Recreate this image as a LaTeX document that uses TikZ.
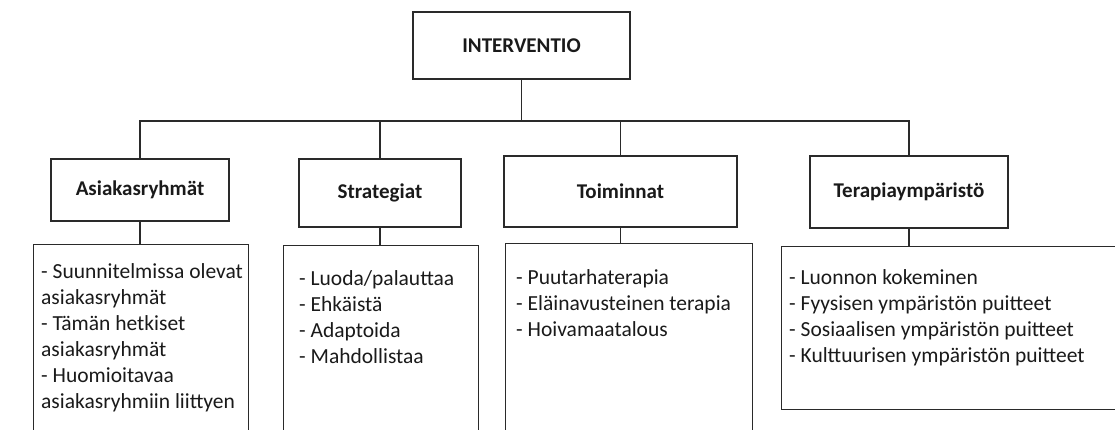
\documentclass[tikz,border=0pt]{standalone}
\usepackage{fontspec}
\setmainfont{Carlito}
\usetikzlibrary{calc}
\definecolor{linec}{HTML}{2A2A2A}
\definecolor{textc}{HTML}{1A1A1A}
\begin{document}
\begin{tikzpicture}[x=1pt,y=-1pt,
  line/.style={draw=linec, line width=1.4pt},
  headbox/.style={draw=linec, line width=1.4pt, fill=white, inner sep=0pt,
    font=\fontsize{21}{26}\selectfont\bfseries, text=textc},
  listbox/.style={draw=linec, line width=1.4pt, inner sep=0pt, anchor=north west},
  listtext/.style={inner sep=0pt, anchor=north west, align=left,
    font=\fontsize{21.5}{26}\selectfont, text=textc}]
\useasboundingbox (0,0) rectangle (1115,429);
\clip (0,0) rectangle (1115,429);
\fill[white] (0,0) rectangle (1115,429);
% header boxes
\node[headbox, minimum width=217pt, minimum height=67pt] (top) at (521.5,45.5) {INTERVENTIO};
\node[headbox, minimum width=178pt, minimum height=62pt] (h1) at (140,190) {Asiakasryhmät};
\node[headbox, minimum width=162pt, minimum height=68pt] (h2) at (380,193) {Strategiat};
\node[headbox, minimum width=233pt, minimum height=71pt] (h3) at (620.5,191.5) {Toiminnat};
\node[headbox, minimum width=198pt, minimum height=72pt] (h4) at (909,192) {Terapiaympäristö};
% list boxes
\node[listbox, minimum width=215pt, minimum height=260pt] (b1) at (33,244) {};
\node[listbox, minimum width=195pt, minimum height=260pt] (b2) at (283,245) {};
\node[listbox, minimum width=247pt, minimum height=260pt] (b3) at (505,243) {};
\node[listbox, minimum width=360pt, minimum height=163pt] (b4) at (781,246) {};
% list texts
\node[listtext] (t1) at (41,259.8) {\strut- Suunnitelmissa olevat\\asiakasryhmät\\- Tämän hetkiset\\asiakasryhmät\\- Huomioitavaa\\asiakasryhmiin liittyen};
\node[listtext] (t2) at (299,266.8) {\strut- Luoda/palauttaa\\- Ehkäistä\\- Adaptoida\\- Mahdollistaa};
\node[listtext] (t3) at (516,265.8) {\strut- Puutarhaterapia\\- Eläinavusteinen terapia\\- Hoivamaatalous};
\node[listtext] (t4) at (789,265.8) {\strut- Luonnon kokeminen\\- Fyysisen ympäristön puitteet\\- Sosiaalisen ympäristön puitteet\\- Kulttuurisen ympäristön puitteet};
% connectors
\coordinate (bus) at (516,121);
\draw[line] (top.south) -- (top.south |- bus);
\draw[line] (h1.north) |- (bus) -| (h4.north);
\draw[line] (h2.north) -- (h2.north |- bus);
\draw[line] (h3.north) -- (h3.north |- bus);
\draw[line] (h1.south) -- (h1.south |- b1.north);
\draw[line] (h2.south) -- (h2.south |- b2.north);
\draw[line] (h3.south) -- (h3.south |- b3.north);
\draw[line] (h4.south) -- (h4.south |- b4.north);
\end{tikzpicture}
\end{document}
